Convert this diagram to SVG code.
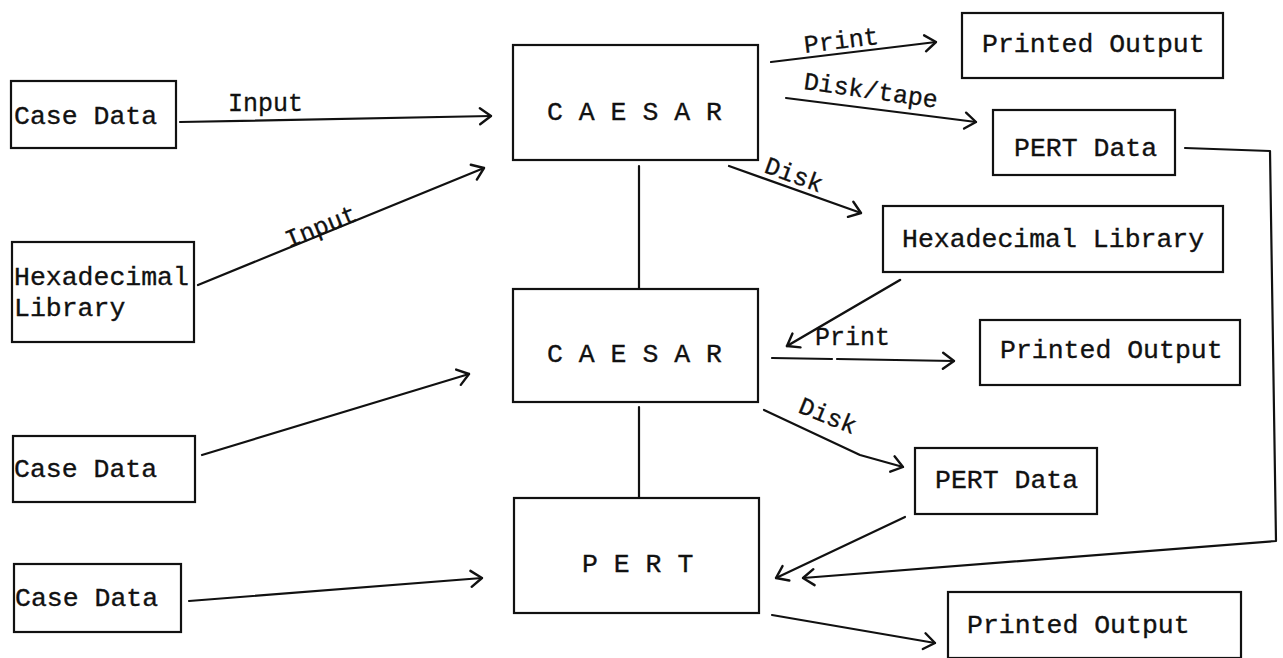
<svg xmlns="http://www.w3.org/2000/svg" width="1283" height="658" viewBox="0 0 1283 658">
  <style>
    .box { fill: #fff; stroke: #111; stroke-width: 2.2; }
    .t { font-family: "Liberation Mono", "Courier New", monospace; font-size: 26.5px; fill: #111; stroke: #111; stroke-width: 0.35; }
    .lbl { font-family: "Liberation Mono", "Courier New", monospace; font-size: 25px; fill: #111; stroke: #111; stroke-width: 0.3; }
    .ln { fill: none; stroke: #111; stroke-width: 2.2; stroke-linecap: round; stroke-linejoin: round; }
    .arr { marker-end: url(#head); }
  </style>
  <defs>
    <marker id="head" markerUnits="userSpaceOnUse" markerWidth="30" markerHeight="30" refX="0" refY="0" viewBox="-16 -15 30 30" orient="auto">
      <path d="M-11,-8 L0,0 L-11,8" fill="none" stroke="#111" stroke-width="2.4" stroke-linecap="round" stroke-linejoin="round"/>
    </marker>
  </defs>
  <rect width="1283" height="658" fill="#fff"/>

  <!-- connectors -->
  <g id="connectors">
    <line class="ln arr" x1="180" y1="122" x2="491" y2="116"/>
    <line class="ln arr" x1="198" y1="285" x2="484" y2="168"/>
    <line class="ln arr" x1="771" y1="62" x2="936" y2="42"/>
    <line class="ln arr" x1="786" y1="98" x2="976" y2="122"/>
    <line class="ln arr" x1="729" y1="166" x2="861" y2="213"/>
    <line class="ln" x1="639" y1="166" x2="639" y2="289"/>
    <line class="ln arr" x1="900" y1="280" x2="787" y2="346" style="stroke-width:2.6"/>
    <line class="ln" x1="772" y1="358" x2="832" y2="359"/>
    <line class="ln arr" x1="837" y1="359" x2="954" y2="361"/>
    <polyline class="ln arr" points="764,410 860,455 903,467"/>
    <line class="ln" x1="639" y1="407" x2="639" y2="497"/>
    <line class="ln arr" x1="905" y1="517" x2="776" y2="578"/>
    <polyline class="ln arr" points="1185,148 1270,151 1276,541 803,578"/>
    <line class="ln arr" x1="202" y1="455" x2="469" y2="374"/>
    <line class="ln arr" x1="189" y1="601" x2="482" y2="578"/>
    <line class="ln arr" x1="772" y1="615" x2="935" y2="643"/>

    <text class="lbl" x="228" y="111">Input</text>
    <text class="lbl" transform="translate(289,248) rotate(-22)">Input</text>
    <text class="lbl" transform="translate(805,53) rotate(-7)">Print</text>
    <text class="lbl" transform="translate(803,89) rotate(8)">Disk/tape</text>
    <text class="lbl" transform="translate(763,172) rotate(20)">Disk</text>
    <text class="lbl" x="815" y="345">Print</text>
    <text class="lbl" transform="translate(797,412) rotate(22)">Disk</text>
  </g>

  <!-- source data, left column -->
  <g id="case-data-1">
    <rect class="box" x="11" y="81" width="165" height="67"/>
    <text class="t" x="14" y="124">Case Data</text>
  </g>
  <g id="hex-library-in">
    <rect class="box" x="12" y="242" width="182" height="100"/>
    <text class="t" x="14" y="285">Hexadecimal</text>
    <text class="t" x="14" y="316">Library</text>
  </g>
  <g id="case-data-2">
    <rect class="box" x="13" y="436" width="182" height="66"/>
    <text class="t" x="14" y="477">Case Data</text>
  </g>
  <g id="case-data-3">
    <rect class="box" x="14" y="564" width="167" height="68"/>
    <text class="t" x="15" y="606">Case Data</text>
  </g>

  <!-- programs, middle column -->
  <g id="caesar-1">
    <rect class="box" x="513" y="45" width="245" height="115"/>
    <text class="t" x="547" y="120">C A E S A R</text>
  </g>
  <g id="caesar-2">
    <rect class="box" x="513" y="289" width="245" height="113"/>
    <text class="t" x="547" y="362">C A E S A R</text>
  </g>
  <g id="pert">
    <rect class="box" x="514" y="498" width="245" height="115"/>
    <text class="t" x="582" y="572">P E R T</text>
  </g>

  <!-- outputs, right column -->
  <g id="printed-output-1">
    <rect class="box" x="962" y="13" width="261" height="65"/>
    <text class="t" x="982" y="52">Printed Output</text>
  </g>
  <g id="pert-data-1">
    <rect class="box" x="993" y="110" width="182" height="65"/>
    <text class="t" x="1014" y="156">PERT Data</text>
  </g>
  <g id="hex-library-out">
    <rect class="box" x="883" y="206" width="340" height="66"/>
    <text class="t" x="902" y="247">Hexadecimal Library</text>
  </g>
  <g id="printed-output-2">
    <rect class="box" x="980" y="320" width="260" height="65"/>
    <text class="t" x="1000" y="358">Printed Output</text>
  </g>
  <g id="pert-data-2">
    <rect class="box" x="915" y="448" width="182" height="66"/>
    <text class="t" x="935" y="488">PERT Data</text>
  </g>
  <g id="printed-output-3">
    <rect class="box" x="948" y="592" width="293" height="66"/>
    <text class="t" x="967" y="633">Printed Output</text>
  </g>
</svg>
